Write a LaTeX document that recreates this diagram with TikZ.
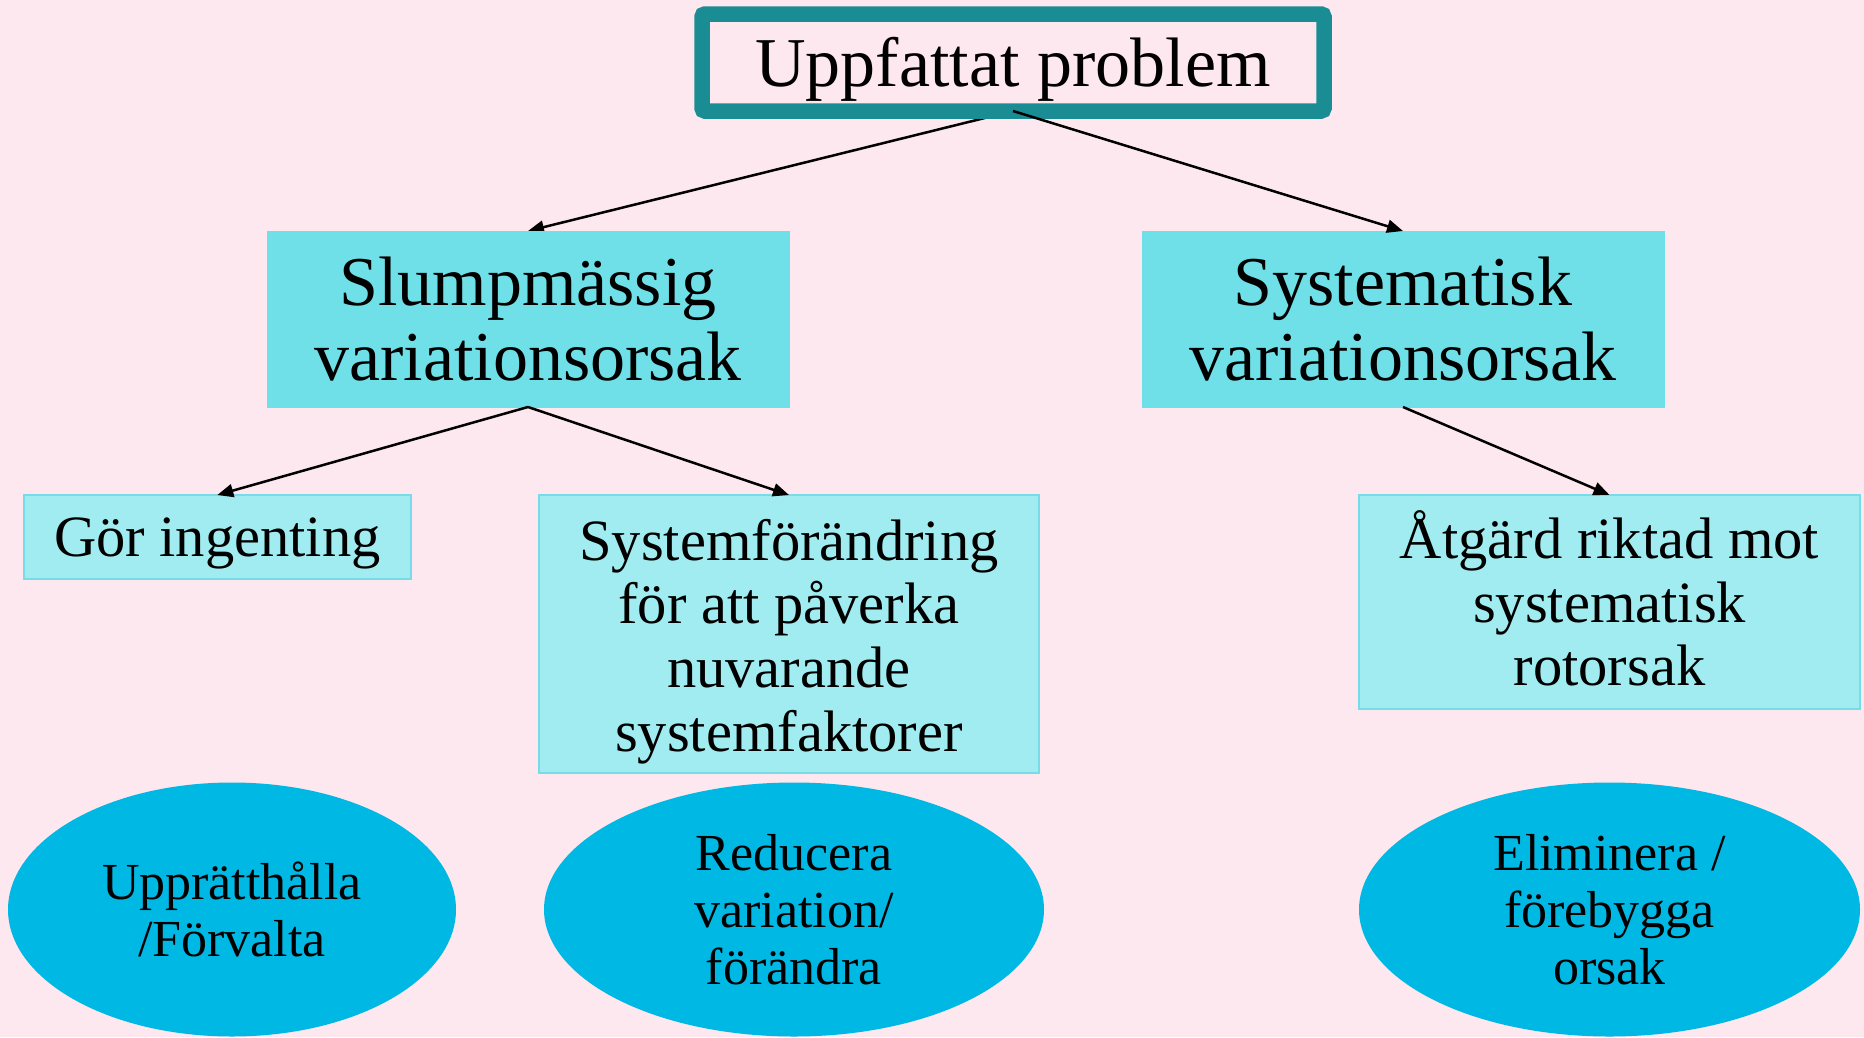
\documentclass[tikz,border=0pt]{standalone}
\usepackage{fontspec}
\setmainfont{Liberation Serif}
\usetikzlibrary{shapes.geometric,arrows.meta}
\pgfdeclarelayer{back}
\pgfdeclarelayer{under}
\pgfsetlayers{back,under,main}
\definecolor{bgpink}{HTML}{FDE8F0}
\definecolor{tealborder}{HTML}{198C94}
\definecolor{bigcyan}{HTML}{6FE0E8}
\definecolor{smallcyan}{HTML}{A0ECF0}
\definecolor{smallborder}{HTML}{78DCE8}
\definecolor{ellblue}{HTML}{00B8E4}
\begin{document}
\begin{tikzpicture}[x=1pt,y=-1pt,
  topbox/.style={draw=tealborder, line width=15.5pt, rounded corners=3pt, outer sep=0pt, inner sep=0pt,
    minimum width=622pt, minimum height=97pt, font=\fontsize{70}{75.7}\selectfont,
    text height=47pt, text depth=0pt},
  bigbox/.style={fill=bigcyan, draw=bigcyan, line width=1pt, inner sep=0pt, outer sep=0pt,
    minimum width=522pt, minimum height=176pt, font=\fontsize{70}{75.7}\selectfont, align=center},
  smallbox/.style={fill=smallcyan, draw=smallborder, line width=2pt, inner sep=0pt, outer sep=0pt,
    font=\fontsize{58.5}{63.6}\selectfont, align=center},
  goal/.style={ellipse, fill=ellblue, inner sep=0pt, outer sep=0pt, minimum height=254pt,
    font=\fontsize{52}{57.3}\selectfont, align=center},
  link/.style={line width=2.5pt, -{Triangle[length=16pt,width=13pt]}}
]
\begin{pgfonlayer}{back}
  \fill[bgpink] (0,0) rectangle (1864,1037);
\end{pgfonlayer}
\useasboundingbox (0,0) rectangle (1864,1037);

\node[topbox] (top) at (1013,62.5) {Uppfattat problem};

\node[bigbox] (slump) at (528,319) {Slumpmässig\\variationsorsak};
\node[bigbox] (syst) at (1403,319) {Systematisk\\variationsorsak};

\node[smallbox, minimum width=387pt, minimum height=84pt, text height=39pt, text depth=0pt] (gor) at (217.3,537) {Gör ingenting};
\node[smallbox, minimum width=500pt, minimum height=278pt] (sysf) at (789,634)
  {\rule{0pt}{56pt}Systemförändring\\för att påverka\\nuvarande\\systemfaktorer};
\node[smallbox, minimum width=501pt, minimum height=214pt] (atg) at (1609.5,602)
  {\smash{Å}tgärd riktad mot\\systematisk\\rotorsak};

\node[goal, minimum width=448pt] (e1) at (232,909.5) {Upprätthålla\\/Förvalta};
\node[goal, minimum width=500pt] (e2) at (794,909.5) {Reducera\\variation/\\förändra};
\node[goal, minimum width=501pt] (e3) at (1609.5,909.5) {Eliminera /\\förebygga\\orsak};

\begin{pgfonlayer}{under}
  \draw[link] (top.south) -- (slump.north);
\end{pgfonlayer}
\draw[link] (top.south) -- (syst.north);
\draw[link] (slump.south) -- (gor.north);
\draw[link] (slump.south) -- (sysf.north);
\draw[link] (syst.south) -- (atg.north);
\end{tikzpicture}
\end{document}
